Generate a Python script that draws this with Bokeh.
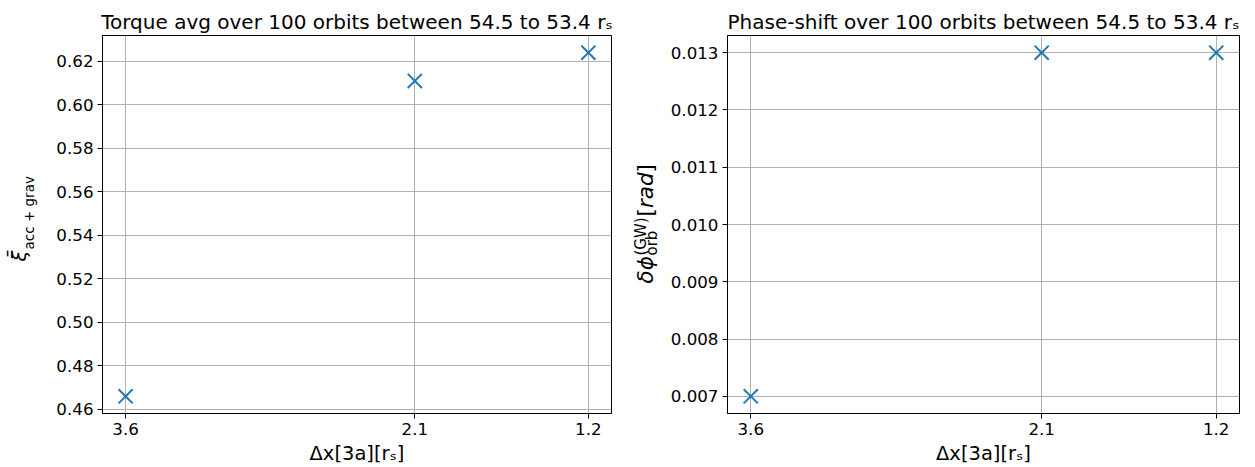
import math
from bokeh.plotting import figure
from bokeh.layouts import row
from bokeh.models import Range1d, FixedTicker, PrintfTickFormatter, Label
from bokeh.embed import file_html
from bokeh.resources import INLINE

# ---- data ----
dx = [3.6, 2.1, 1.2]
dx_ticks = [3.6, 2.1, 1.2]
dx_tick_labels = ["3.6", "2.1", "1.2"]
torque = [0.466, 0.611, 0.624]
phase_shift = [0.007, 0.013, 0.013]
torque_ticks = [0.46, 0.48, 0.50, 0.52, 0.54, 0.56, 0.58, 0.60, 0.62]
phase_ticks = [0.007, 0.008, 0.009, 0.010, 0.011, 0.012, 0.013]

title_left = "Torque avg over 100 orbits between 54.5 to 53.4 rₛ"
title_right = "Phase-shift over 100 orbits between 54.5 to 53.4 rₛ"
xlabel = "Δx[3a][rₛ]"

FONT = "DejaVu Sans"
BLUE = "#1f77b4"
GRID = "#b0b0b0"
H = 467
FRAME_BOTTOM = 413
LABEL_W = 40


def margin_range(vals, reverse=False):
    lo, hi = min(vals), max(vals)
    m = (hi - lo) * 0.05
    if reverse:
        return Range1d(hi + m, lo - m)
    return Range1d(lo - m, hi + m)


def make(title, yvals, yticks, yfmt, width, left, right, top):
    p = figure(width=width, height=H, output_backend="svg", toolbar_location=None,
               x_range=margin_range(dx, reverse=True), y_range=margin_range(yvals),
               min_border_left=left, min_border_right=right, min_border_top=top,
               min_border_bottom=H - FRAME_BOTTOM)
    p.title.text = title
    p.title.align = "center"
    p.title.text_font = FONT
    p.title.text_font_size = "20px"
    p.title.text_font_style = "normal"
    p.title.text_color = "black"
    p.title.standoff = 4
    p.outline_line_color = "black"
    p.outline_line_width = 1
    p.outline_line_alpha = 1
    p.background_fill_color = "white"
    p.border_fill_color = "white"
    for g in (p.xgrid, p.ygrid):
        g.grid_line_color = GRID
        g.grid_line_width = 1
    p.xaxis.ticker = FixedTicker(ticks=dx_ticks)
    p.xaxis.major_label_overrides = {t: s for t, s in zip(dx_ticks, dx_tick_labels)}
    p.yaxis.ticker = FixedTicker(ticks=yticks)
    p.yaxis.formatter = PrintfTickFormatter(format=yfmt)
    for ax in (p.xaxis[0], p.yaxis[0]):
        ax.major_tick_out = 5
        ax.major_tick_in = 0
        ax.minor_tick_line_color = None
        ax.axis_line_color = "black"
        ax.major_tick_line_color = "black"
        ax.major_label_text_font = FONT
        ax.major_label_text_font_size = "16.7px"
        ax.major_label_text_color = "black"
        ax.major_label_standoff = 4
        ax.axis_label_text_font = FONT
        ax.axis_label_text_font_size = "19.5px"
        ax.axis_label_text_font_style = "normal"
        ax.axis_label_text_color = "black"
        ax.axis_label_standoff = 4
    p.xaxis.axis_label = xlabel
    p.scatter(dx, yvals, marker="x", size=20, line_color=BLUE, line_width=2)
    return p


def label_strip():
    s = figure(width=LABEL_W, height=H, output_backend="svg", toolbar_location=None,
               x_axis_location=None, y_axis_location=None, min_border=0,
               x_range=Range1d(0, LABEL_W), y_range=Range1d(0, H))
    s.outline_line_color = None
    s.grid.visible = False
    s.background_fill_color = "white"
    s.border_fill_color = "white"
    return s


def vlabel(s, px, py, text, size, style="normal"):
    # px, py: page pixel position of the rotated text's baseline start
    # (the strip's frame is aligned with the neighbouring plot frames)
    s.add_layout(Label(x=px, y=FRAME_BOTTOM - py, x_units="screen", y_units="screen", text=text,
                       angle=math.pi / 2, text_align="left", text_baseline="alphabetic",
                       text_font=FONT, text_font_size=size, text_font_style=style,
                       text_color="black"))


s1 = label_strip()
p1 = make(title_left, torque, torque_ticks, "%.2f", 620 - LABEL_W, 102 - LABEL_W, 9, 35)
s2 = label_strip()
p2 = make(title_right, phase_shift, phase_ticks, "%.3f", 635 - LABEL_W, 107 - LABEL_W, 16, 33)

# left y label: xi-bar with subscript "acc + grav"
vlabel(s1, 19, 261, "ξ̄", "19.5px", "italic")
vlabel(s1, 28, 249, "acc + grav", "13.5px")

# right y label: delta phi ^(GW) _orb [rad]
vlabel(s2, 25, 283, "δϕ", "21.5px", "italic")
vlabel(s2, 20, 255, "(GW)", "15px")
vlabel(s2, 31, 255, "orb", "15px")
vlabel(s2, 25, 216, "[", "21.5px")
vlabel(s2, 25, 207.6, "rad", "21.5px", "italic")
vlabel(s2, 25, 171.9, "]", "21.5px")

layout = row(s1, p1, s2, p2)
open("out.html", "w").write(file_html(layout, INLINE))
